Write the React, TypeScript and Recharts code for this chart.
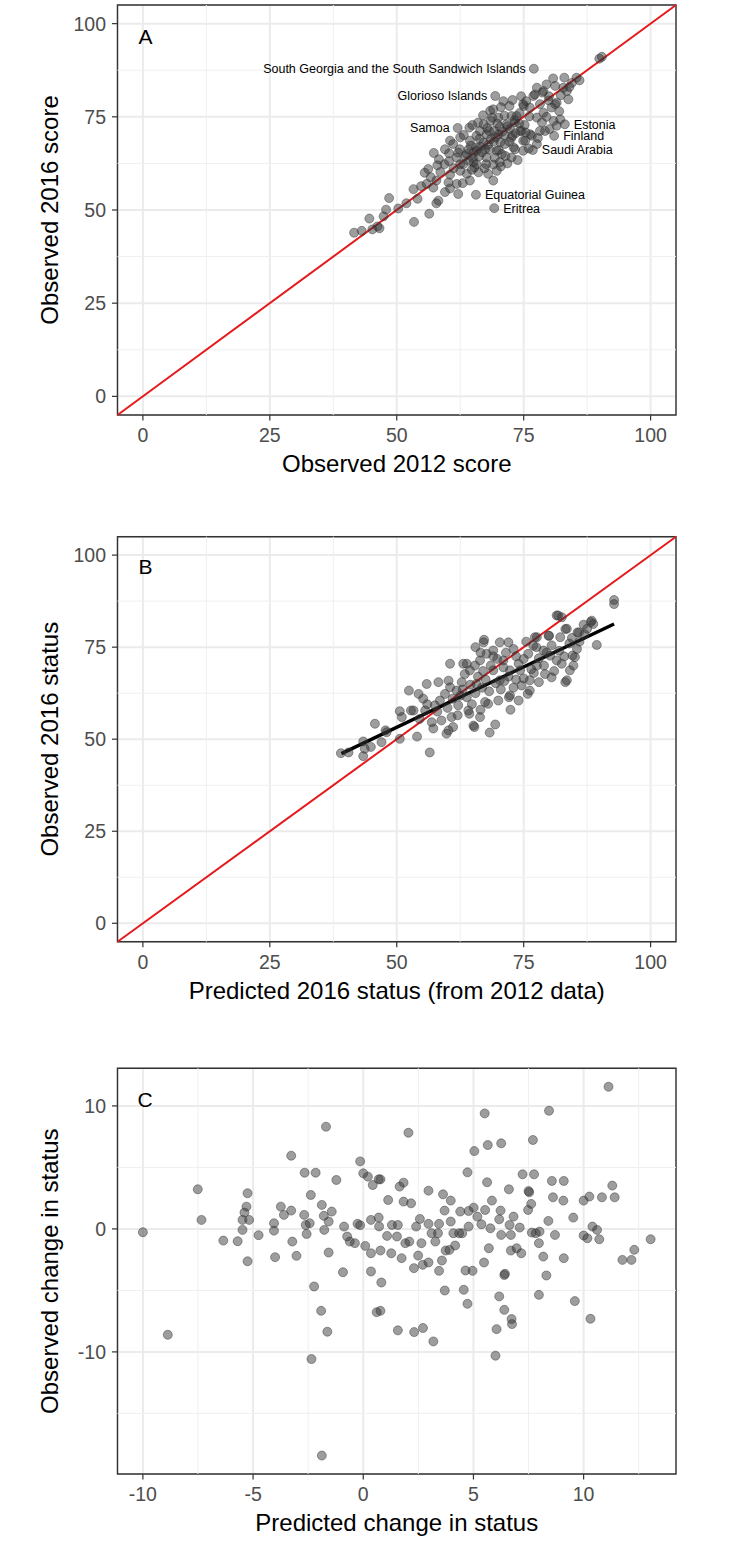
import React from "react";
import {
  ScatterChart,
  Scatter,
  XAxis,
  YAxis,
  CartesianGrid,
  ReferenceLine,
  ReferenceArea,
  ReferenceDot,
} from "recharts";

const FONT = "'Liberation Sans', Arial, Helvetica, sans-serif";

// ---- shared axis breaks ----
const ticks100 = [0, 25, 50, 75, 100];
const minor100 = [12.5, 37.5, 62.5, 87.5];
const domain100: [number, number] = [-5, 105];

// ---- panel A: observed 2012 vs observed 2016 score ----
const scorePoints: [number, number][] = [
  [41.6, 43.9], [43.1, 44.4], [44.6, 47.7], [45.2, 44.8], [46.2, 45.6], [46.6, 45.1], [47.4, 48.3],
  [47.9, 50.1], [48.5, 53.2], [50.3, 50.4], [51.9, 51.8], [53.4, 46.8], [53.3, 55.6], [54.1, 53.0],
  [54.8, 56.4], [56.4, 49.0], [55.9, 57.0], [57.8, 51.8], [58.2, 52.5], [56.2, 61.0], [56.7, 58.8],
  [57.8, 57.9], [59.5, 54.8], [60.2, 57.4], [57.3, 65.3], [58.3, 63.6], [59.4, 62.3], [59.5, 66.3],
  [60.5, 59.5], [62.1, 54.3], [61.1, 67.7], [61.8, 64.1], [63.1, 62.3], [63.8, 59.7], [64.4, 57.9],
  [62.5, 60.5], [61.8, 57.0], [63.8, 65.0], [65.1, 62.8], [65.7, 65.9], [66.1, 60.1],
  [64.3, 72.1], [64.9, 72.8], [65.7, 69.9], [67.1, 73.0], [68.5, 73.9], [66.4, 71.2], [67.7, 70.3],
  [70.0, 70.3], [72.6, 69.4], [71.3, 67.7], [73.3, 66.3], [74.9, 65.9], [69.7, 65.9], [67.1, 68.1],
  [64.4, 68.6], [60.5, 68.6], [62.5, 69.5], [62.1, 65.4], [65.1, 65.4], [67.7, 64.1], [70.3, 62.8],
  [72.6, 64.1], [65.7, 62.3], [62.5, 62.3], [67.6, 62.3], [70.5, 61.7], [69.7, 60.5], [68.0, 59.7],
  [69.0, 57.9], [68.4, 76.6], [69.0, 77.0], [70.5, 77.6], [72.2, 77.9], [72.6, 75.2], [73.6, 75.2],
  [70.0, 74.8], [71.6, 73.0], [73.3, 73.5], [74.3, 71.2], [74.6, 71.2], [75.3, 68.6], [74.9, 68.6],
  [73.0, 66.8], [76.6, 69.9], [76.3, 70.3], [77.6, 67.7], [78.2, 71.2], [79.2, 71.2], [77.6, 74.8],
  [78.6, 73.5], [78.9, 76.1], [80.1, 71.7], [80.9, 73.9], [81.5, 72.6], [82.2, 74.3], [76.2, 77.5],
  [75.0, 77.9], [78.2, 78.4], [75.5, 79.2], [74.9, 78.4], [76.9, 80.6], [77.2, 81.0], [79.9, 79.4],
  [81.5, 78.8], [81.2, 78.4], [80.5, 77.5], [77.6, 82.8], [78.7, 81.5], [78.9, 81.9], [79.5, 83.7],
  [81.2, 83.3], [82.8, 82.8], [83.5, 81.9], [83.8, 79.7], [80.8, 85.3], [83.0, 85.5], [85.4, 85.5],
  [84.5, 84.1], [89.9, 90.6], [90.4, 91.1],
  [66.5, 67.0], [68.5, 69.0], [69.2, 71.2], [70.4, 68.2], [71.2, 70.1], [72.3, 71.8], [73.4, 70.6],
  [68.3, 66.2], [69.3, 64.0], [66.2, 64.4], [64.2, 63.2], [70.1, 66.1], [71.4, 64.5], [72.2, 68.3],
  [75.2, 72.8], [76.1, 75.1], [74.2, 76.0], [73.2, 74.1], [70.3, 72.3], [69.1, 68.4], [67.4, 66.3],
  [65.3, 61.4], [61.2, 61.2], [60.3, 63.1], [68.2, 71.2], [71.2, 75.3], [74.1, 73.2], [75.4, 70.8],
  [66.3, 69.1], [64.1, 66.2], [63.2, 70.1], [69.0, 62.2], [62.4, 66.3], [63.0, 57.2], [58.6, 60.2],
  [64.8, 60.8], [71.8, 62.5], [73.8, 63.4], [76.0, 66.5], [77.8, 69.3], [79.5, 75.0], [72.8, 79.5],
  [71.0, 79.2], [74.5, 80.5], [80.0, 80.5], [82.3, 80.8], [84.0, 83.0], [86.0, 84.8], [82.0, 76.5],
  [68.8, 74.8], [67.0, 75.4], [66.0, 73.4], [60.3, 65.2], [58.0, 62.0], [55.5, 60.0], [57.2, 56.0],
  [60.5, 55.8],
  [65.0, 64.0], [66.8, 65.5], [68.0, 67.5], [69.5, 69.5], [70.8, 71.0], [71.8, 72.5], [67.8, 72.0],
  [63.5, 64.5], [64.6, 67.3], [72.8, 70.0], [70.7, 65.0], [67.3, 61.2], [65.6, 66.8], [69.8, 73.2],
];

const labelledCountries = [
  { name: "South Georgia and the South Sandwich Islands", x: 77.0, y: 87.9 },
  { name: "Glorioso Islands", x: 69.4, y: 80.6 },
  { name: "Samoa", x: 62.0, y: 72.0 },
  { name: "Estonia", x: 83.1, y: 73.0 },
  { name: "Finland", x: 81.0, y: 69.9 },
  { name: "Saudi Arabia", x: 76.8, y: 66.1 },
  { name: "Equatorial Guinea", x: 65.6, y: 54.1 },
  { name: "Eritrea", x: 69.2, y: 50.5 },
];
const labelsOnRight = ["Estonia", "Finland", "Saudi Arabia", "Equatorial Guinea", "Eritrea"];

// ---- panel B: predicted 2016 vs observed 2016 status ----
const statusPoints: [number, number][] = [
  [39.0, 46.2], [40.5, 46.4], [43.4, 45.4], [43.7, 47.4], [43.4, 49.4], [44.9, 47.9], [45.7, 54.2],
  [47.0, 49.2], [47.8, 52.4], [48.0, 51.9], [50.6, 50.1], [50.6, 57.6], [51.0, 56.0], [52.4, 63.2],
  [52.8, 57.8], [53.3, 57.8], [54.0, 50.7], [54.3, 62.3], [55.2, 61.0], [55.9, 65.0], [55.6, 57.8],
  [56.5, 46.4], [56.9, 54.6], [57.2, 52.9], [57.5, 59.2], [58.2, 65.5], [58.5, 60.5], [58.8, 55.1],
  [59.5, 62.3], [59.8, 51.5], [60.2, 52.4], [60.5, 70.5], [60.2, 65.9], [60.5, 64.1], [60.8, 56.0],
  [61.1, 53.3], [61.8, 63.2], [62.1, 59.2], [63.1, 70.5], [63.4, 67.7], [63.8, 61.4], [64.1, 57.8],
  [64.3, 56.9], [65.1, 53.7], [65.3, 53.3], [65.4, 70.0], [65.7, 65.0], [66.4, 56.0], [67.1, 76.3],
  [67.4, 60.1], [68.0, 59.6], [68.3, 51.8], [69.4, 54.0],
  [92.8, 87.8], [92.8, 86.7], [89.4, 75.6], [88.4, 82.2], [88.7, 81.3], [86.8, 81.1], [85.6, 79.0],
  [85.1, 72.3], [84.1, 68.7], [83.5, 66.0], [83.2, 65.5], [84.8, 70.0], [84.6, 72.7], [81.5, 83.6],
  [82.5, 83.1], [81.8, 83.6], [82.2, 77.7], [83.5, 80.0], [83.2, 79.9], [85.9, 79.0], [88.2, 81.8],
  [79.9, 78.1], [78.9, 74.1], [80.2, 72.7], [81.5, 71.4], [80.5, 66.8], [77.6, 77.7], [77.2, 77.7],
  [76.9, 75.4], [75.9, 73.2], [77.6, 70.0], [76.2, 66.0], [74.3, 68.7], [73.0, 74.5], [72.0, 76.3],
  [70.3, 76.3], [69.0, 74.1], [67.2, 77.0], [67.7, 73.2], [66.4, 71.4], [63.8, 70.5], [64.4, 68.7],
  [71.0, 71.4], [72.3, 68.7], [70.3, 66.0], [69.0, 68.7], [72.3, 61.9], [72.1, 61.4], [72.4, 58.0],
  [75.8, 62.3], [76.2, 63.2], [74.6, 64.6], [79.2, 67.7], [80.0, 78.1],
  [65.5, 62.5], [66.8, 64.0], [67.5, 66.2], [68.2, 63.0], [69.5, 65.2], [70.5, 63.5], [71.2, 65.8],
  [72.0, 67.0], [73.5, 66.2], [74.0, 70.5], [75.0, 71.8], [76.5, 69.0], [78.0, 72.0], [79.0, 70.0],
  [80.5, 75.5], [82.0, 74.0], [83.0, 72.5], [84.0, 76.0], [86.0, 76.5], [87.0, 78.5], [81.0, 68.5],
  [78.0, 65.5], [75.0, 66.5], [73.0, 64.0], [71.0, 69.5], [69.8, 71.8], [68.5, 70.0], [67.0, 68.5],
  [66.0, 67.0], [64.5, 64.8], [63.0, 63.5], [62.5, 61.8], [61.0, 61.0], [60.0, 58.5], [62.0, 56.5],
  [64.8, 59.5], [66.5, 58.0], [70.0, 60.5], [74.0, 60.5], [77.0, 68.0], [79.5, 73.5], [85.5, 74.5],
  [87.5, 80.0], [84.5, 77.5], [82.5, 70.5], [77.5, 75.0], [75.5, 76.5], [73.5, 72.5], [71.5, 73.5],
  [69.0, 72.5], [66.5, 73.5], [65.5, 75.0], [58.0, 57.5], [56.0, 59.5], [54.5, 55.5], [62.8, 65.5],
];
const fitLine = [
  { x: 39.1, y: 46.1 },
  { x: 92.8, y: 81.3 },
];

// ---- panel C: predicted vs observed change ----
const changeTicksX = [-10, -5, 0, 5, 10];
const changeMinorX = [-7.5, -2.5, 2.5, 7.5, 12.5];
const changeTicksY = [-10, 0, 10];
const changeMinorY = [-15, -5, 5];
const changePoints: [number, number][] = [
  [-10.0, -0.27], [-7.51, 3.22], [-7.34, 0.73], [-8.87, -8.61], [-6.35, -0.95], [-5.7, -1.0],
  [-5.25, 2.9], [-5.3, 1.81], [-5.39, 1.33], [-5.48, 0.73], [-5.18, 0.73], [-5.48, -0.08],
  [-5.25, -2.63], [-4.75, -0.51], [-4.05, 0.46], [-4.05, -0.14], [-4.0, -2.3], [-3.74, 1.81],
  [-3.6, 1.14], [-3.27, 1.49], [-3.27, 5.95], [-3.22, -1.03], [-3.03, -2.19], [-2.66, 4.57],
  [-2.16, 4.57], [-2.68, 1.14], [-2.61, 0.32], [-2.57, -0.41], [-2.38, 2.76], [-2.43, 0.46],
  [-2.35, -10.58], [-2.23, -4.68], [-1.91, -6.66], [-1.88, -18.43], [-1.88, 1.95], [-1.79, 1.06],
  [-1.77, -0.08], [-1.69, 8.31], [-1.63, -8.36], [-1.57, 0.6], [-1.57, -1.92], [-1.43, 1.41],
  [-1.22, 3.98], [-0.92, -3.52], [-0.87, 0.19], [-0.73, -0.62], [-0.61, -1.03], [-0.38, -1.16],
  [-0.26, 0.41], [-0.14, 5.49], [-0.14, 0.3], [0.0, 4.52], [0.09, -1.38], [0.21, 4.25],
  [0.35, -1.98], [0.35, 0.73], [0.35, -3.46], [0.43, 3.57], [0.7, 4.03], [0.78, 4.03],
  [0.61, -6.77], [0.78, -6.66], [0.82, -4.36], [0.78, -1.76], [0.7, 0.92], [0.72, 0.2],
  [1.13, 2.35], [1.08, -0.57], [1.27, -1.98], [1.3, 0.32], [1.53, -0.62], [1.57, 0.32],
  [1.57, -8.25], [1.65, 3.44], [1.74, -2.38], [1.83, 3.76], [1.83, 2.22], [1.91, -1.16],
  [2.05, 7.82], [2.09, -1.03], [2.17, 2.08], [2.3, -3.19], [2.31, -8.39], [2.4, 0.19],
  [2.49, -2.17], [2.57, 0.81], [2.64, -1.16], [2.7, -2.92], [2.71, -8.06], [2.96, 3.11],
  [2.96, 0.41], [2.96, -2.73], [3.1, -0.35], [3.18, -9.15], [3.27, -1.03], [3.39, -0.35],
  [3.44, 0.41], [3.44, -3.41], [3.57, -2.57], [3.62, 2.81], [3.69, 1.49], [3.7, -5.01],
  [3.74, -1.76], [3.91, -1.71], [3.97, 2.3], [3.97, 0.6], [4.09, -0.35], [4.17, -1.35],
  [4.35, -0.35], [4.4, 1.41], [4.49, -0.35], [4.56, -4.95], [4.64, -3.38], [4.73, -6.09],
  [4.73, 4.6], [4.78, 1.46], [4.78, 0.19], [4.96, -3.41], [5.01, 1.73], [5.04, 6.33],
  [5.18, 1.0], [5.36, 0.38], [5.48, -2.73], [5.51, 9.39], [5.53, 1.54], [5.62, 3.79],
  [5.65, 6.82], [5.7, -1.57], [5.77, 0.05], [5.84, 2.3], [6.0, -10.31], [6.05, -8.15],
  [6.17, -5.49], [6.17, 0.78], [6.23, 1.49], [6.26, 6.96], [6.26, -0.49], [6.4, -6.58],
  [6.43, -3.65], [6.4, -3.75], [6.61, 3.22], [6.64, 0.32], [6.7, -1.76], [6.7, -0.49],
  [6.73, -7.33], [6.75, -7.74], [6.82, 1.0], [6.96, -1.57], [7.1, 0.11], [7.17, -1.98],
  [7.23, 4.44], [7.48, 1.54], [7.53, 2.98], [7.5, 3.08], [7.62, 2.03], [7.65, -0.3],
  [7.7, 7.23], [7.75, 4.44], [7.83, -0.35], [7.97, -1.16], [7.97, -5.36], [8.0, -0.22],
  [8.17, -2.25], [8.31, -3.79], [8.4, 0.65], [8.43, 9.61], [8.56, 3.9], [8.61, 2.57],
  [8.7, -0.49], [9.08, 2.3], [9.1, 3.9], [9.1, -2.38], [9.53, 0.92], [9.6, -5.87], [10.0, 2.3],
  [10.0, -0.54], [10.17, -0.76], [10.26, 2.63], [10.31, -7.31], [10.4, 0.19], [10.61, -0.08],
  [10.71, -0.84], [10.83, 2.57], [11.13, 11.56], [11.3, 3.52], [11.41, 2.57], [11.76, -2.52],
  [12.17, -2.52], [12.3, -1.7], [13.04, -0.84],
];

const toXY = (pts: [number, number][]) => pts.map(([x, y]) => ({ x, y }));

// padding of 5% around data range, as ggplot does
const expand = (vals: number[]): [number, number] => {
  const lo = Math.min(...vals);
  const hi = Math.max(...vals);
  const pad = (hi - lo) * 0.05;
  return [lo - pad, hi + pad];
};

const PlotDot = (p: any) => (
  <circle cx={p.cx} cy={p.cy} r={4.5} fill="#333" fillOpacity={0.48} stroke="#333" strokeOpacity={0.45} strokeWidth={1} />
);

const LabelledDot = (p: any) => {
  const right = labelsOnRight.includes(p.payload.name);
  return (
    <g>
      <PlotDot cx={p.cx} cy={p.cy} />
      <text
        x={right ? p.cx + 9 : p.cx - 8}
        y={p.cy}
        dy="0.35em"
        textAnchor={right ? "start" : "end"}
        fontSize={12.5}
        fontFamily={FONT}
        fill="#000"
      >
        {p.payload.name}
      </text>
    </g>
  );
};

type PanelProps = {
  top: number;
  height: number;
  marginTop: number;
  marginBottom: number;
  xDomain: [number, number];
  yDomain: [number, number];
  xTicks: number[];
  yTicks: number[];
  xMinor: number[];
  yMinor: number[];
  xTitle: string;
  yTitle: string;
  letter: string;
  letterAt: { x: number; y: number };
  points: { x: number; y: number }[];
  extra?: React.ReactNode[];
};

const tickStyle = { fill: "#4D4D4D", fontSize: 19.5, fontFamily: FONT };
const titleStyle = { fill: "#000", fontSize: 24, fontFamily: FONT };

function Panel(props: PanelProps) {
  const { xDomain, yDomain } = props;
  return (
    <div style={{ position: "absolute", left: 0, top: props.top }}>
      <ScatterChart
        width={733}
        height={props.height}
        margin={{ top: props.marginTop, right: 57, bottom: props.marginBottom, left: 0 }}
      >
        <CartesianGrid stroke="#EBEBEB" strokeWidth={2} />
        {props.xMinor.map((v) => (
          <ReferenceLine key={`mx${v}`} x={v} stroke="#EFEFEF" strokeWidth={1} />
        ))}
        {props.yMinor.map((v) => (
          <ReferenceLine key={`my${v}`} y={v} stroke="#EFEFEF" strokeWidth={1} />
        ))}
        <XAxis
          type="number"
          dataKey="x"
          domain={xDomain}
          ticks={props.xTicks}
          interval={0}
          allowDataOverflow
          height={65}
          axisLine={false}
          tickSize={5.5}
          tickMargin={7.5}
          tickLine={{ stroke: "#333", strokeWidth: 1.2 }}
          tick={tickStyle}
          label={{ value: props.xTitle, position: "insideBottom", offset: 8, ...titleStyle }}
        />
        <YAxis
          type="number"
          dataKey="y"
          domain={yDomain}
          ticks={props.yTicks}
          interval={0}
          allowDataOverflow
          width={117.5}
          axisLine={false}
          tickSize={5.5}
          tickMargin={6}
          tickLine={{ stroke: "#333", strokeWidth: 1.2 }}
          tick={tickStyle}
          label={{
            value: props.yTitle,
            angle: -90,
            position: "insideLeft",
            offset: 49,
            textAnchor: "middle",
            ...titleStyle,
          }}
        />
        <Scatter data={props.points} shape={PlotDot} isAnimationActive={false} />
        {props.extra}
        <ReferenceArea
          x1={xDomain[0]}
          x2={xDomain[1]}
          y1={yDomain[0]}
          y2={yDomain[1]}
          fill="none"
          fillOpacity={0}
          stroke="#333"
          strokeWidth={1.4}
        />
        <ReferenceDot
          x={props.letterAt.x}
          y={props.letterAt.y}
          r={0}
          fill="none"
          stroke="none"
          label={{ value: props.letter, position: "center", fontSize: 21, fill: "#000", fontFamily: FONT }}
        />
      </ScatterChart>
    </div>
  );
}

const identity = [
  { x: domain100[0], y: domain100[0] },
  { x: domain100[1], y: domain100[1] },
];

export default function App() {
  const changeXY = toXY(changePoints);
  return (
    <div style={{ position: "absolute", left: 0, top: 0, width: 733, height: 1541, background: "#fff" }}>
      <Panel
        top={0}
        height={500}
        marginTop={5}
        marginBottom={20}
        xDomain={domain100}
        yDomain={domain100}
        xTicks={ticks100}
        yTicks={ticks100}
        xMinor={minor100}
        yMinor={minor100}
        xTitle="Observed 2012 score"
        yTitle="Observed 2016 score"
        letter="A"
        letterAt={{ x: 0.5, y: 96.6 }}
        points={toXY(scorePoints)}
        extra={[
          <Scatter key="lab" data={labelledCountries} shape={LabelledDot} isAnimationActive={false} />,
          <ReferenceLine key="id" segment={identity} stroke="#E41A1C" strokeWidth={2} />,
        ]}
      />
      <Panel
        top={500}
        height={520}
        marginTop={36.7}
        marginBottom={13.3}
        xDomain={domain100}
        yDomain={domain100}
        xTicks={ticks100}
        yTicks={ticks100}
        xMinor={minor100}
        yMinor={minor100}
        xTitle="Predicted 2016 status (from 2012 data)"
        yTitle="Observed 2016 status"
        letter="B"
        letterAt={{ x: 0.5, y: 96.8 }}
        points={toXY(statusPoints)}
        extra={[
          <ReferenceLine key="id" segment={identity} stroke="#E41A1C" strokeWidth={2} />,
          <ReferenceLine key="fit" segment={fitLine} stroke="#000" strokeWidth={3.5} />,
        ]}
      />
      <Panel
        top={1020}
        height={521}
        marginTop={48.3}
        marginBottom={2}
        xDomain={expand(changePoints.map((p) => p[0]))}
        yDomain={expand(changePoints.map((p) => p[1]))}
        xTicks={changeTicksX}
        yTicks={changeTicksY}
        xMinor={changeMinorX}
        yMinor={changeMinorY}
        xTitle="Predicted change in status"
        yTitle="Observed change in status"
        letter="C"
        letterAt={{ x: -9.9, y: 10.5 }}
        points={changeXY}
      />
    </div>
  );
}
